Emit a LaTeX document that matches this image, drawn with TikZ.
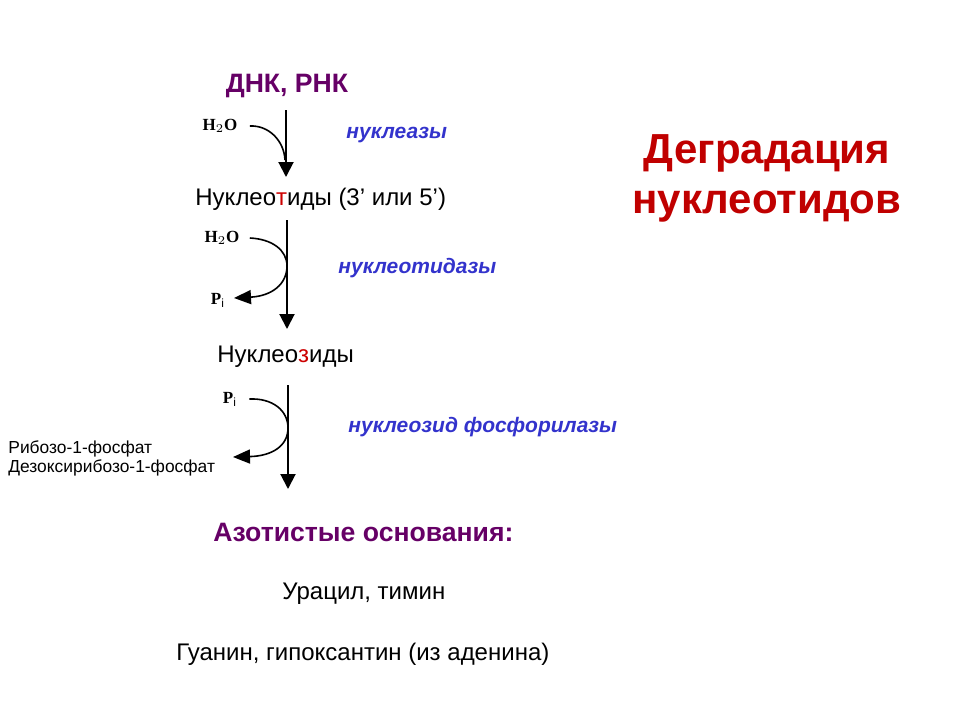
\documentclass[tikz,border=0pt]{standalone}
\usepackage{fontspec}
\setmainfont{Liberation Sans}
\newfontfamily\timesf{Liberation Serif}
\usetikzlibrary{arrows.meta}
\definecolor{purp}{HTML}{660066}
\definecolor{enz}{HTML}{3333CC}
\definecolor{ttl}{HTML}{C00000}
\definecolor{redl}{HTML}{CC0000}
\begin{document}
\begin{tikzpicture}[x=0.5pt,y=-0.5pt,
  lbl/.style={inner sep=0pt,anchor=west,font=\fontsize{12}{14}\selectfont},
  sml/.style={inner sep=0pt,anchor=west,font=\fontsize{8.7}{10}\selectfont},
  head/.style={inner sep=0pt,font=\fontsize{13.3}{15}\selectfont\bfseries,text=purp},
  enzyme/.style={inner sep=0pt,anchor=west,font=\fontsize{10.5}{12}\selectfont\bfseries\itshape,text=enz},
  chem/.style={inner sep=0pt,font=\fontsize{8.5}{10}\selectfont\timesf\bfseries},
  mainarrow/.style={line width=1pt,-{Triangle[width=7.5pt,length=7.5pt]}},
  sidearrow/.style={line width=0.8pt},
  sidearrowhead/.style={line width=0.8pt,-{Triangle[width=7pt,length=8.5pt]}}]
\useasboundingbox (0,0) rectangle (960,720);
% title
\node[inner sep=0pt,align=center,text=ttl,font=\fontsize{21}{25}\selectfont\bfseries] (title) at (767,178) {Деградация\\нуклеотидов};
% texts
\node[head] (dnk) at (287,86) {ДНК, РНК};
\node[enzyme] (enz1) at (346,135) {нуклеазы};
\node[lbl] (nt) at (195,199) {Нуклео{\color{redl}т}иды (3’ или 5’)};
\node[enzyme] (enz2) at (338,268) {нуклеотидазы};
\node[lbl] (ns) at (217,357) {Нуклео{\color{redl}з}иды};
\node[enzyme] (enz3) at (348,427) {нуклеозид фосфорилазы};
\node[sml] (rib) at (8,449) {Рибозо-1-фосфат};
\node[sml] (deox) at (8,468) {Дезоксирибозо-1-фосфат};
\node[head,anchor=west] (az) at (213,532) {Азотистые основания:};
\node[lbl] (ur) at (282,594) {Урацил, тимин};
\node[lbl] (gu) at (176,654) {Гуанин, гипоксантин (из аденина)};
% chemical labels
\node[chem] (w1) at (220,126) {H$_2$O};
\node[chem] (w2) at (222,238) {H$_2$O};
\node[chem] (p2) at (218,300) {P$_\mathrm{i}$};
\node[chem] (p3) at (230,399) {P$_\mathrm{i}$};
% arrow coordinates
\coordinate (a1s) at (286,110);
\coordinate (a1e) at (286,177);
\coordinate (a2s) at (287,220);
\coordinate (a2e) at (287,329);
\coordinate (a3s) at (288,385);
\coordinate (a3e) at (288,489);
\coordinate (c1e) at (285,160);
\coordinate (c2m) at (287,266);
\coordinate (c2e) at (234,298);
\coordinate (c3m) at (288,428);
\coordinate (c3e) at (233,457);
% main arrows
\draw[mainarrow] (a1s) -- (a1e);
\draw[mainarrow] (a2s) -- (a2e);
\draw[mainarrow] (a3s) -- (a3e);
% side curves
\draw[sidearrow] ([xshift=6pt]w1.east) .. controls (268,125) and (284,140) .. (c1e);
\draw[sidearrowhead] ([xshift=5pt]w2.east) .. controls (272,239) and (287,250) .. (c2m)
  .. controls (287,284) and (272,296) .. (c2e);
\draw[sidearrowhead] ([xshift=6pt]p3.east) .. controls (272,398) and (288,410) .. (c3m)
  .. controls (288,446) and (272,456) .. (c3e);
\end{tikzpicture}
\end{document}
